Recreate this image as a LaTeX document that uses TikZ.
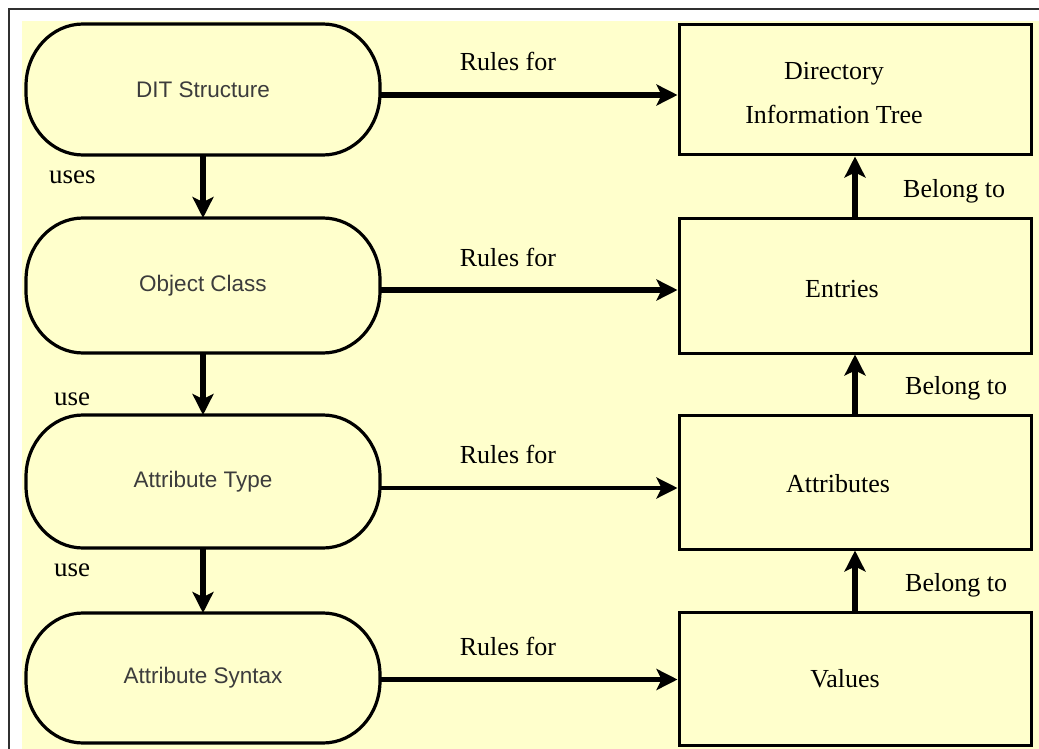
\documentclass[tikz,border=0pt]{standalone}
\usepackage{fontspec}
\setmainfont{Liberation Serif}
\newfontfamily\pillfont{Liberation Sans}
\usetikzlibrary{arrows.meta}
\definecolor{paper}{HTML}{FFFFCC}
\definecolor{pilltext}{HTML}{3C3C3C}
\definecolor{frameline}{HTML}{303030}

\begin{document}
\begin{tikzpicture}[x=1pt,y=-1pt,
  pill/.style={outer sep=0pt, minimum width=354pt, minimum height=132pt, inner sep=0pt,
    font=\pillfont\fontsize{22.5}{27}\selectfont, text=pilltext},
  pillline/.style={draw, line width=3.2pt, line join=round},
  box/.style={draw, line width=3pt, fill=paper, minimum width=352pt,
    minimum height=132pt, inner sep=0pt},
  boxtext/.style={font=\fontsize{26}{44}\selectfont, align=center, inner sep=0pt},
  flow/.style={line width=5.5pt, -{Stealth[length=21pt,width=21pt,inset=5pt]}},
  rule/.style={font=\fontsize{26}{30}\selectfont, anchor=base, inner sep=0pt},
  usetag/.style={font=\fontsize{27}{30}\selectfont, anchor=base west, inner sep=0pt},
]
\useasboundingbox (0,0) rectangle (1039,749);

% page frame and yellow ground
\fill[white] (0,0) rectangle (1039,749);
\draw[frameline, line width=2pt] (9,749) -- (9,9) -- (1039,9);
\fill[paper] (22,21) rectangle (1039,749);

% schema elements (outlined as stadiums with elliptical ends below)
\node[pill, minimum height=131pt] (dit) at (203,89.5) {DIT Structure};
\node[pill, minimum height=135pt] (oc)  at (203,285.5) {Object Class};
\node[pill, minimum height=133pt] (at)  at (203,481.5) {Attribute Type};
\node[pill, minimum height=130pt] (as)  at (203,678) {Attribute Syntax};

\foreach \n in {dit,oc,at,as}
  \draw[pillline]
    ([xshift=57pt]\n.north west) -- ([xshift=-57pt]\n.north east)
    arc[start angle=90, end angle=0, x radius=57pt, y radius=62pt]
    -- ([yshift=62pt]\n.south east)
    arc[start angle=0, end angle=-90, x radius=57pt, y radius=62pt]
    -- ([xshift=57pt]\n.south west)
    arc[start angle=270, end angle=180, x radius=57pt, y radius=62pt]
    -- ([yshift=-62pt]\n.north west)
    arc[start angle=180, end angle=90, x radius=57pt, y radius=62pt]
    -- cycle;

% directory elements
\node[box, minimum height=130pt] (tree)  at (855,90) {};
\node[box, minimum height=135pt] (entr)  at (855,285.5) {};
\node[box, minimum height=134pt] (attr)  at (855,482) {};
\node[box, minimum height=133pt] (vals)  at (855,678.5) {};

\node[boxtext] (treet) at (834,93) {Directory\\Information Tree};
\node[boxtext, anchor=base] (entrt) at (842,297) {Entries};
\node[boxtext, anchor=base] (attrt) at (838,492) {Attributes};
\node[boxtext, anchor=base] (valst) at (845,687) {Values};

% "rules for" connectors
\draw[flow] ([yshift=-5.5pt]dit.east) -- ([yshift=-5.5pt]dit.east -| tree.west)
  node[rule, pos=0.43, yshift=24pt] (r1) {Rules for};
\draw[flow] ([yshift=-4.5pt]oc.east) -- ([yshift=-4.5pt]oc.east -| entr.west)
  node[rule, pos=0.43, yshift=24pt] (r2) {Rules for};
\draw[flow, line width=3.5pt] ([yshift=-6.5pt]at.east) -- ([yshift=-6.5pt]at.east -| attr.west)
  node[rule, pos=0.43, yshift=25pt] (r3) {Rules for};
\draw[flow] ([yshift=-1.5pt]as.east) -- ([yshift=-1.5pt]as.east -| vals.west)
  node[rule, pos=0.43, yshift=24pt] (r4) {Rules for};

% "uses" connectors
\draw[flow, line width=6pt] (dit.south) -- (oc.north);
\draw[flow, line width=6pt] (oc.south) -- (at.north);
\draw[flow, line width=6pt] (at.south) -- (as.north);
\node[usetag] (u1) at (49,183) {uses};
\node[usetag] (u2) at (54,405) {use};
\node[usetag] (u3) at (54,576) {use};

% "belong to" connectors
\draw[flow, line width=6pt] (entr.north) -- (tree.south);
\draw[flow, line width=6pt] (attr.north) -- (entr.south);
\draw[flow, line width=6pt] (vals.north) -- (attr.south);
\node[rule, anchor=base west] (bt1) at (903,197) {Belong to};
\node[rule, anchor=base west] (bt2) at (905,394) {Belong to};
\node[rule, anchor=base west] (bt3) at (905,591) {Belong to};
\end{tikzpicture}
\end{document}
